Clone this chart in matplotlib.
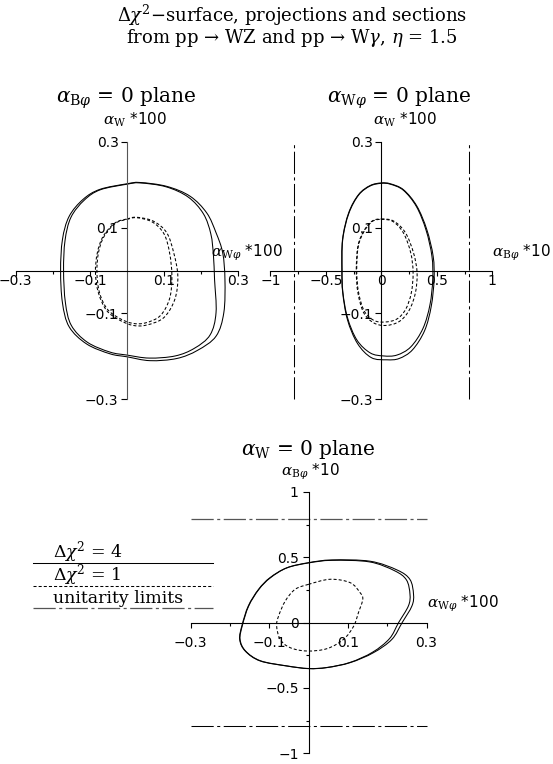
import matplotlib
matplotlib.use("Agg")
import matplotlib.pyplot as plt
from matplotlib.lines import Line2D
from matplotlib.path import Path
from matplotlib.patches import PathPatch

plt.rcParams['mathtext.fontset'] = 'dejavuserif'
plt.rcParams['lines.scale_dashes'] = False

W, H = 553, 764

# ---------------- data ----------------
# alpha_Bphi = 0 plane : x = alpha_Wphi*100, y = alpha_W*100
p1_chi4_proj = [(0.000, 0.202), (0.035, 0.205), (0.107, 0.196), (0.170, 0.173), (0.215, 0.134),
                (0.240, 0.088), (0.258, 0.041), (0.264, -0.021), (0.261, -0.098), (0.240, -0.153),
                (0.190, -0.186), (0.134, -0.205), (0.062, -0.210), (0.000, -0.201), (-0.046, -0.194),
                (-0.109, -0.171), (-0.156, -0.131), (-0.174, -0.075), (-0.179, 0.000), (-0.174, 0.072),
                (-0.156, 0.126), (-0.118, 0.166), (-0.073, 0.189)]
p1_chi4_sect = [(0.000, 0.201), (0.035, 0.204), (0.105, 0.195), (0.165, 0.171), (0.206, 0.132),
                (0.226, 0.085), (0.233, 0.035), (0.236, -0.021), (0.240, -0.098), (0.224, -0.150),
                (0.182, -0.181), (0.130, -0.199), (0.060, -0.204), (0.000, -0.197), (-0.046, -0.190),
                (-0.107, -0.167), (-0.150, -0.128), (-0.166, -0.075), (-0.171, 0.000), (-0.167, 0.070),
                (-0.151, 0.124), (-0.115, 0.164), (-0.072, 0.188)]
p1_chi1_proj = [(0.000, 0.120), (0.026, 0.124), (0.071, 0.115), (0.107, 0.088), (0.126, 0.041),
                (0.137, -0.013), (0.129, -0.067), (0.099, -0.110), (0.053, -0.127), (0.017, -0.128),
                (-0.019, -0.116), (-0.055, -0.093), (-0.077, -0.052), (-0.085, -0.005), (-0.080, 0.041),
                (-0.064, 0.080), (-0.032, 0.111)]
p1_chi1_sect = [(0.000, 0.119), (0.026, 0.123), (0.068, 0.113), (0.100, 0.085), (0.115, 0.040),
                (0.121, -0.013), (0.115, -0.065), (0.090, -0.105), (0.050, -0.122), (0.015, -0.123),
                (-0.019, -0.112), (-0.053, -0.090), (-0.074, -0.052), (-0.081, -0.005), (-0.077, 0.041),
                (-0.062, 0.079), (-0.031, 0.110)]

# alpha_Wphi = 0 plane : x = alpha_Bphi*10, y = alpha_W*100
p2_chi4_proj = [(0.000, 0.204), (0.081, 0.202), (0.200, 0.188), (0.320, 0.150), (0.410, 0.095),
                (0.467, 0.033), (0.475, -0.021), (0.450, -0.083), (0.390, -0.140), (0.280, -0.185),
                (0.160, -0.205), (0.050, -0.208), (-0.090, -0.203), (-0.215, -0.170), (-0.305, -0.115),
                (-0.348, -0.052), (-0.356, 0.000), (-0.350, 0.072), (-0.295, 0.134), (-0.205, 0.177),
                (-0.100, 0.198)]
p2_chi4_sect = [(0.000, 0.203), (0.081, 0.201), (0.198, 0.187), (0.316, 0.149), (0.403, 0.094),
                (0.456, 0.033), (0.463, -0.021), (0.438, -0.080), (0.375, -0.135), (0.265, -0.178),
                (0.140, -0.197), (0.020, -0.199), (-0.100, -0.192), (-0.220, -0.162), (-0.305, -0.110),
                (-0.347, -0.050), (-0.354, 0.000), (-0.348, 0.072), (-0.293, 0.133), (-0.204, 0.176),
                (-0.100, 0.197)]
p2_chi1_proj = [(0.000, 0.120), (0.112, 0.115), (0.217, 0.088), (0.290, 0.041), (0.322, -0.005),
                (0.307, -0.052), (0.250, -0.093), (0.160, -0.119), (0.040, -0.128), (-0.069, -0.122),
                (-0.160, -0.098), (-0.211, -0.052), (-0.226, 0.000), (-0.211, 0.057), (-0.160, 0.091),
                (-0.084, 0.115)]
p2_chi1_sect = [(0.000, 0.119), (0.105, 0.114), (0.200, 0.087), (0.265, 0.041), (0.286, -0.005),
                (0.270, -0.052), (0.220, -0.090), (0.140, -0.113), (0.030, -0.120), (-0.069, -0.116),
                (-0.155, -0.094), (-0.206, -0.050), (-0.222, 0.000), (-0.208, 0.056), (-0.158, 0.090),
                (-0.083, 0.114)]

# alpha_W = 0 plane : x = alpha_Wphi*100, y = alpha_Bphi*10
p3_chi4_proj = [(0.000, 0.459), (0.060, 0.480), (0.157, 0.470), (0.226, 0.402), (0.258, 0.330),
                (0.267, 0.217), (0.263, 0.128), (0.238, 0.000), (0.212, -0.128), (0.165, -0.230),
                (0.106, -0.306), (0.047, -0.344), (0.000, -0.352), (-0.055, -0.332), (-0.123, -0.293),
                (-0.161, -0.217), (-0.175, -0.128), (-0.169, -0.020), (-0.153, 0.128),
                (-0.127, 0.255), (-0.098, 0.344), (-0.055, 0.420)]
p3_chi4_sect = [(0.000, 0.457), (0.060, 0.477), (0.155, 0.465), (0.219, 0.397), (0.249, 0.327),
                (0.258, 0.217), (0.254, 0.128), (0.229, 0.000), (0.206, -0.122), (0.163, -0.226),
                (0.106, -0.304), (0.047, -0.343), (0.000, -0.351), (-0.055, -0.331), (-0.122, -0.292),
                (-0.160, -0.217), (-0.174, -0.128), (-0.168, -0.020), (-0.152, 0.128),
                (-0.126, 0.255), (-0.097, 0.343), (-0.055, 0.419)]
p3_chi1 = [(0.000, 0.293), (0.055, 0.332), (0.106, 0.306), (0.131, 0.230), (0.138, 0.179),
           (0.127, 0.077), (0.115, -0.026), (0.089, -0.128), (0.047, -0.199), (-0.004, -0.217),
           (-0.047, -0.191), (-0.072, -0.128), (-0.081, -0.026), (-0.076, 0.051), (-0.059, 0.166),
           (-0.034, 0.255)]

# unitarity limit on alpha_Bphi*10
unitarity_Bphi = [-0.79, 0.79]

# axis ticks
w_major = [-0.3, -0.1, 0.1, 0.3]
w_labels = ['\u22120.3', '\u22120.1', '0.1', '0.3']
w_minor = [-0.2, 0.2]
b_major = [-1, -0.5, 0, 0.5, 1]
b_labels = ['\u22121', '\u22120.5', '0', '0.5', '1']
b_minor = [-0.75, -0.25, 0.25, 0.75]

# ---------------- drawing ----------------
fig = plt.figure(figsize=(W / 100, H / 100), dpi=100)
fig.patch.set_facecolor('white')

SANS = 'DejaVu Sans'
SERIF = 'DejaVu Serif'
TICK_FS = 10
DASHED = (0, (2.2, 1.5))
DASHDOT = (0, (16, 2.5, 2.2, 2.5))


def fy(y):
    return 1 - y / H


def panel(x0, x1, ytop, ybot, xlim, ylim, ycolor='black'):
    ax = fig.add_axes([x0 / W, fy(ybot), (x1 - x0) / W, (ybot - ytop) / H])
    ax.set_xlim(xlim)
    ax.set_ylim(ylim)
    ax.patch.set_visible(False)
    for s in ('top', 'right'):
        ax.spines[s].set_visible(False)
    for s in ('left', 'bottom'):
        ax.spines[s].set_position(('data', 0))
        ax.spines[s].set_linewidth(0.8)
    ax.spines['left'].set_color(ycolor)
    return ax


def set_ticks(ax, xmaj, xlab, xmin, ymaj, ylab, ymin, xpad, ypad):
    ax.set_xticks(xmaj)
    ax.set_xticklabels(xlab, family=SANS, fontsize=TICK_FS)
    ax.set_xticks(xmin, minor=True)
    ax.set_yticks(ymaj)
    ax.set_yticklabels(ylab, family=SANS, fontsize=TICK_FS)
    ax.set_yticks(ymin, minor=True)
    ax.tick_params(axis='x', which='major', direction='out', length=3.8, width=0.8, pad=xpad)
    ax.tick_params(axis='x', which='minor', direction='out', length=2.3, width=0.8)
    ax.tick_params(axis='y', which='major', direction='out', length=4.3, width=0.8, pad=ypad)
    ax.tick_params(axis='y', which='minor', direction='out', length=2.5, width=0.8)


def contour(ax, pts, ls='-', color='black', lw=0.75):
    # closed smooth curve through the listed points (Catmull-Rom as cubic Bezier)
    n = len(pts)
    verts = [pts[0]]
    codes = [Path.MOVETO]
    for i in range(n):
        p0 = pts[(i - 1) % n]
        p1 = pts[i]
        p2 = pts[(i + 1) % n]
        p3 = pts[(i + 2) % n]
        c1 = (p1[0] + (p2[0] - p0[0]) / 6, p1[1] + (p2[1] - p0[1]) / 6)
        c2 = (p2[0] - (p3[0] - p1[0]) / 6, p2[1] - (p3[1] - p1[1]) / 6)
        verts += [c1, c2, p2]
        codes += [Path.CURVE4] * 3
    patch = PathPatch(Path(verts, codes), fill=False, edgecolor=color, lw=lw, ls=ls,
                      transform=ax.transData, clip_on=False)
    ax.add_patch(patch)


# panel: alpha_Bphi = 0
ax1 = panel(15.7, 238.3, 141.7, 399.3, (-0.3, 0.3), (-0.3, 0.3), ycolor='#555555')
set_ticks(ax1, w_major, w_labels, w_minor, w_major, w_labels, [], -1.2, 1.8)
contour(ax1, p1_chi4_proj)
contour(ax1, p1_chi4_sect)
contour(ax1, p1_chi1_proj, ls=DASHED)
contour(ax1, p1_chi1_sect, ls=DASHED)

# panel: alpha_Wphi = 0
ax2 = panel(270.4, 492.3, 141.7, 399.3, (-1, 1), (-0.3, 0.3))
set_ticks(ax2, b_major, b_labels, b_minor, w_major, w_labels, [], -1.2, 1.8)
contour(ax2, p2_chi4_proj)
contour(ax2, p2_chi4_sect)
contour(ax2, p2_chi1_proj, ls=DASHED)
contour(ax2, p2_chi1_sect, ls=DASHED)
for u in unitarity_Bphi:
    ax2.plot([u, u], [-0.3, 0.3], color='black', lw=0.75, ls=DASHDOT, clip_on=False)

# panel: alpha_W = 0
ax3 = panel(190.5, 426.5, 492.0, 753.3, (-0.3, 0.3), (-1, 1))
set_ticks(ax3, w_major, w_labels, w_minor, b_major, b_labels, b_minor, 5.5, 2.8)
contour(ax3, p3_chi4_proj)
contour(ax3, p3_chi4_sect)
contour(ax3, p3_chi1, ls=DASHED)
ax3.plot([-0.3, 0.3], [unitarity_Bphi[1]] * 2, color='#555555', lw=0.9, ls=DASHDOT, clip_on=False)
ax3.plot([-0.3, 0.3], [unitarity_Bphi[0]] * 2, color='black', lw=0.75, ls=DASHDOT, clip_on=False)

# two-line title
fig.text(292 / W, fy(3), r'$\Delta\chi^2$$-$surface, projections and sections' '\n'
         'from pp \u2192 WZ and pp \u2192 W$\\gamma$, $\\eta$ = 1.5',
         ha='center', va='top', multialignment='center', linespacing=0.95,
         family=SERIF, fontsize=13)

PT_FS = 14.5
fig.text(126 / W, fy(103), r'$\alpha_{\mathrm{B}\varphi}$ = 0 plane', ha='center', va='baseline',
         family=SERIF, fontsize=PT_FS)
fig.text(399 / W, fy(103), r'$\alpha_{\mathrm{W}\varphi}$ = 0 plane', ha='center', va='baseline',
         family=SERIF, fontsize=PT_FS)
fig.text(308.5 / W, fy(455), r'$\alpha_{\mathrm{W}}$ = 0 plane', ha='center', va='baseline',
         family=SERIF, fontsize=PT_FS)

# axis labels
AX_FS = 11
fig.text(135 / W, fy(125), r'$\alpha_{\mathrm{W}}$ *100', ha='center', va='baseline', family=SANS, fontsize=AX_FS)
fig.text(405 / W, fy(125), r'$\alpha_{\mathrm{W}}$ *100', ha='center', va='baseline', family=SANS, fontsize=AX_FS)
fig.text(211 / W, fy(257), r'$\alpha_{\mathrm{W}\varphi}$ *100', ha='left', va='baseline', family=SANS, fontsize=AX_FS)
fig.text(491.5 / W, fy(257), r'$\alpha_{\mathrm{B}\varphi}$ *10', ha='left', va='baseline', family=SANS, fontsize=AX_FS)
fig.text(310 / W, fy(476), r'$\alpha_{\mathrm{B}\varphi}$ *10', ha='center', va='baseline', family=SANS, fontsize=AX_FS)
fig.text(427 / W, fy(608), r'$\alpha_{\mathrm{W}\varphi}$ *100', ha='left', va='baseline', family=SANS, fontsize=AX_FS)

# legend
LEG_FS = 12.5
fig.text(53 / W, fy(557), r'$\Delta\chi^2$ = 4', ha='left', va='baseline', family=SERIF, fontsize=LEG_FS)
fig.text(53 / W, fy(580.5), r'$\Delta\chi^2$ = 1', ha='left', va='baseline', family=SERIF, fontsize=LEG_FS)
fig.text(53 / W, fy(603), 'unitarity limits', ha='left', va='baseline', family=SERIF, fontsize=LEG_FS)
fig.add_artist(Line2D([33 / W, 213 / W], [fy(562.5)] * 2, color='black', lw=0.75))
fig.add_artist(Line2D([33 / W, 213 / W], [fy(586)] * 2, color='black', lw=0.75, ls=DASHED))
fig.add_artist(Line2D([33 / W, 213 / W], [fy(608.3)] * 2, color='#555555', lw=0.9, ls=DASHDOT))

fig.savefig('out.png', dpi=100, facecolor='white')
